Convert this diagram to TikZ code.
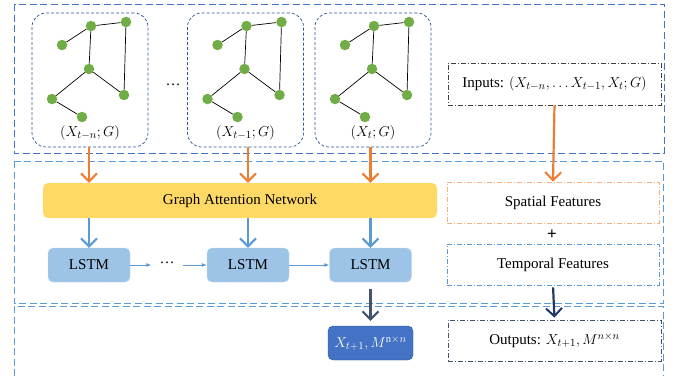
\documentclass[tikz,border=0pt]{standalone}
\usepackage{amsmath}
\usepackage{fontspec}
\setmainfont{Liberation Serif}
\usepackage{tikz}
\usetikzlibrary{arrows.meta,positioning}
\definecolor{frameblue}{HTML}{4472C4}
\definecolor{lightframe}{HTML}{5B9BD5}
\definecolor{snapblue}{HTML}{2F5597}
\definecolor{gnodegreen}{HTML}{70AD47}
\definecolor{gatorange}{HTML}{ED7D31}
\definecolor{gatyellow}{HTML}{FFD966}
\definecolor{lstmblue}{HTML}{9DC3E6}
\definecolor{lstmedge}{HTML}{BDD7EE}
\definecolor{outblue}{HTML}{4472C4}
\definecolor{darkslate}{HTML}{44546A}
\definecolor{navyarr}{HTML}{203864}
\definecolor{spatorange}{HTML}{F4B183}

\begin{document}
\begin{tikzpicture}[
  x=1pt, y=-1pt,
  font=\fontsize{15}{18}\selectfont,
  snap/.style={draw=snapblue, dash pattern=on 3pt off 2pt, rounded corners=14pt, minimum width=116pt, minimum height=134pt, line width=0.7pt},
  gnode/.style={circle, fill=gnodegreen, inner sep=0pt, minimum size=10.5pt},
  gedge/.style={line width=0.7pt},
  gat/.style={rectangle, rounded corners=5pt, fill=gatyellow, minimum width=394pt, minimum height=35pt},
  lstm/.style={rectangle, rounded corners=5pt, fill=lstmblue, draw=lstmedge, minimum width=82pt, minimum height=34pt},
  outbox/.style={rectangle, rounded corners=5pt, fill=outblue, draw=snapblue, text=white, minimum width=85pt, minimum height=34pt},
  featbox/.style={rectangle, dash pattern=on 5pt off 2pt on 1pt off 2pt, line width=0.8pt, minimum width=212pt, minimum height=41pt},
  topframe/.style={draw=frameblue, dash pattern=on 7pt off 3.5pt, line width=0.8pt},
  midframe/.style={draw=lightframe, dash pattern=on 7pt off 3.5pt, line width=0.8pt},
  bigarr/.style={-{Straight Barb[length=8pt,width=16pt,line width=2pt]}, line width=2.2pt},
  thinarr/.style={-{Latex[length=5pt,width=4pt]}, line width=0.8pt, draw=lightframe},
]
\useasboundingbox (0,0) rectangle (678,376);

% frames
\draw[topframe] (14,4) rectangle (664,153);
\draw[midframe] (14,161) rectangle (663,303);
\draw[midframe] (14,376) |- (663,306) -- (663,376);

% graph snapshots
\foreach \i/\cx/\lab in {1/90/{(X_{t-n};G)}, 2/245.5/{(X_{t-1};G)}, 3/373/{(X_t;G)}} {
  \node[snap] (snap\i) at (\cx,80) {};
  \node[gnode] (a\i) at (\cx+1,26) {};
  \node[gnode] (b\i) at (\cx+36,22) {};
  \node[gnode] (c\i) at (\cx-28,45) {};
  \node[gnode] (d\i) at (\cx-1,69) {};
  \node[gnode] (e\i) at (\cx-38,99) {};
  \node[gnode] (f\i) at (\cx+34,95) {};
  \node[gnode] (g\i) at (\cx-8,117) {};
  \draw[gedge] (c\i) -- (a\i) -- (b\i) -- (f\i) -- (d\i) -- (a\i);
  \draw[gedge] (d\i) -- (e\i) -- (g\i);
  \node (lab\i) at (\cx,133) {$\lab$};
}
\node (snapdots) at (173,85) {\ldots};

\node[featbox, draw=black!75, minimum width=213pt, minimum height=42pt] (inputs) at (554.5,84) {Inputs: $(X_{t-n}, \ldots X_{t-1}, X_t; G)$};

% middle part
\node[gat] (gat) at (240,200.5) {Graph Attention Network};
\node[lstm] (lstm1) at (89,265) {LSTM};
\node[lstm] (lstm2) at (248,265) {LSTM};
\node[lstm] (lstm3) at (370.5,265) {LSTM};
\node[inner sep=8pt] (lstmdots) at (167,263) {\ldots};

\node[featbox, draw=spatorange] (spatial) at (553,202.5) {Spatial Features};
\node[font=\fontsize{17}{18}\selectfont\bfseries] (plus) at (552,235) {+};
\node[featbox, draw=lightframe] (temporal) at (553,264.5) {Temporal Features};

% outputs
\node[outbox] (pred) at (370.5,343) {$X_{t+1}, M^{\mathrm{n}\times n}$};
\node[featbox, draw=darkslate, minimum width=213pt] (outputs) at (554.5,340.5) {Outputs: $X_{t+1}, M^{n\times n}$};

% arrows
\foreach \i in {1,2,3} {
  \draw[bigarr, draw=gatorange] (snap\i.south -| lstm\i) -- (lstm\i |- gat.north);
  \draw[bigarr, draw=lightframe] (lstm\i |- gat.south) -- (lstm\i.north);
}
\draw[bigarr, draw=gatorange] (inputs.south) -- (spatial.north);
\draw[thinarr] (lstm1.east) -- (lstmdots.west |- lstm1);
\draw[thinarr] (lstmdots.east |- lstm2) -- (lstm2.west);
\draw[thinarr] (lstm2.east) -- (lstm3.west);
\draw[bigarr, draw=darkslate, shorten <=7pt, shorten >=5pt] (lstm3.south) -- (pred.north);
\draw[bigarr, draw=navyarr, shorten <=2pt, shorten >=2pt] (temporal.south) -- (outputs.north);
\end{tikzpicture}
\end{document}
